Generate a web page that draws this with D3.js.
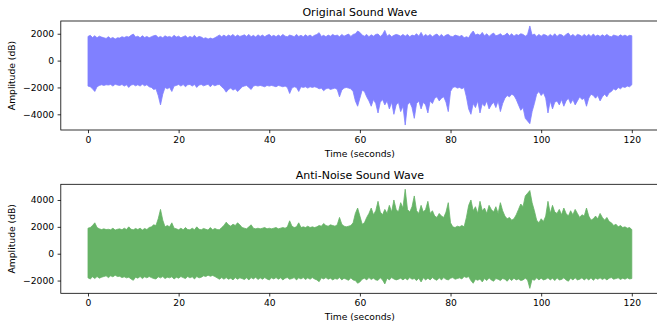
<!DOCTYPE html>
<html>
<head>
<meta charset="utf-8">
<script src="https://cdn.jsdelivr.net/npm/d3@7"></script>
<style>
  body { margin: 0; background: #fff; }
  svg { display: block; font-family: "DejaVu Sans", sans-serif; }
</style>
</head>
<body>
<svg id="chart" width="657" height="331"></svg>
<script>
// envelope of the original wave, read every 0.5 s from 0 to 120 s
const timeStep = 0.5;

const originalUpper = [
  1800,1880,1720,1850,1700,1820,1750,1700,1650,1780,
  1650,1720,1600,1700,1680,1780,1720,1800,1750,1880,
  1980,1750,1820,1700,1850,1720,1800,1700,1780,1850,
  1880,1720,1800,1700,1850,1750,1800,1720,1880,1750,
  1820,1700,1780,1850,1700,1800,1720,1880,1700,1800,
  1750,1650,1700,1600,1680,1620,1700,1800,1900,1780,
  1900,1780,1900,1820,1950,1780,1900,1800,1850,1920,
  1800,1950,1780,1880,1750,1920,1800,1900,1780,1880,
  1950,1800,1880,1780,1900,1800,1950,1820,1780,1900,
  1850,1780,1950,1800,1880,1780,1920,1800,1900,1780,
  1880,1950,2080,1800,1880,1780,1900,1820,1950,1850,
  1900,1780,1950,1820,1900,1980,1800,1950,2000,2200,
  2100,1900,1820,1950,1780,1920,1820,1950,1980,1800,
  1950,2250,1820,1950,1780,1880,1950,1900,1820,1950,
  1820,1950,1780,1900,1850,2000,1820,2100,1800,1950,
  1820,1950,1780,1900,1980,1800,1950,1780,1900,1950,
  1820,1780,1900,1850,1800,1880,1700,1780,1700,2000,
  2200,1900,1980,1880,2100,1850,2000,1800,1950,2050,
  1850,1900,2000,1850,1900,2050,1850,2000,1820,1950,
  1880,2000,1950,1820,1950,2580,1900,1980,1800,1950,
  1820,1950,1900,1800,1950,1820,2000,1800,1950,1920,
  1800,1950,2050,1820,1950,1800,1950,1900,1800,1950,
  1820,1950,1800,1980,1820,1900,1800,1920,1820,1950,
  1820,1780,1900,1850,1800,1920,1820,1900,1800,1880,
  1850
];

const originalLower = [
  -1900,-1950,-2100,-2300,-1950,-1850,-1800,-1850,-1800,-1820,
  -1780,-1900,-1760,-1820,-1850,-1780,-1900,-1800,-2000,-1820,
  -1780,-1880,-1800,-1900,-1760,-1880,-1800,-1950,-2000,-2150,
  -2100,-2600,-3300,-2500,-2000,-2100,-2000,-2300,-1900,-1850,
  -1780,-1900,-1780,-1950,-1800,-1780,-1900,-1780,-2000,-1820,
  -1780,-1880,-1820,-1760,-1950,-1780,-1880,-1800,-1780,-1950,
  -2100,-2350,-2150,-2050,-2200,-2100,-2300,-2150,-1950,-1900,
  -1850,-2000,-2150,-1900,-1850,-1900,-1850,-1900,-1950,-1850,
  -1900,-1850,-1900,-1950,-1850,-1900,-1950,-1900,-2000,-2450,
  -2050,-1950,-2000,-2300,-1950,-2000,-1950,-2050,-1950,-2000,
  -1950,-2000,-2100,-2050,-2250,-2100,-2050,-2150,-2100,-2050,
  -2150,-2700,-2200,-2050,-2000,-2050,-2100,-2300,-3000,-3400,
  -2800,-2200,-2300,-2700,-3000,-3400,-2900,-3200,-3900,-3100,
  -2900,-3300,-3000,-3600,-3100,-4000,-3300,-3100,-3800,-3400,
  -4800,-3300,-3100,-3500,-4300,-3200,-3000,-3600,-3100,-3300,
  -3900,-3000,-3200,-2800,-2700,-3000,-2800,-2700,-3100,-3800,
  -2300,-2000,-1950,-2050,-2000,-2100,-2000,-2700,-3600,-4000,
  -3200,-3500,-3000,-3900,-3200,-3400,-3000,-3600,-3300,-3100,
  -3500,-3000,-3800,-3200,-2800,-2600,-2700,-2500,-2600,-2900,
  -3300,-3700,-3500,-4300,-4500,-4700,-3800,-3200,-2500,-2300,
  -2600,-2400,-2800,-3900,-3000,-3600,-3100,-3000,-3300,-2900,
  -3400,-3000,-2800,-3200,-2900,-3300,-3000,-2700,-2900,-2800,
  -3400,-2800,-2500,-2600,-2800,-2600,-3000,-2700,-2500,-2700,
  -2400,-2300,-2100,-2200,-2000,-2100,-1950,-2000,-1900,-1950,
  -1800
];

// anti-noise is the inverted original, so its envelope flips
const antiUpper = originalLower.map(v => -v);
const antiLower = originalUpper.map(v => -v);

const xTicks = [0, 20, 40, 60, 80, 100, 120];
const topTicks = [-4000, -2000, 0, 2000];
const bottomTicks = [-2000, 0, 2000, 4000];

const svg = d3.select("#chart");
const left = 60.8, right = 659;

const x = d3.scaleLinear().domain([-6, 126]).range([left, right]);

function drawPanel(top, bottom, upper, lower, ticks, color, title, id) {
  const lo = d3.min(lower), hi = d3.max(upper);
  const pad = (hi - lo) * 0.05;
  const y = d3.scaleLinear().domain([lo - pad, hi + pad]).range([bottom, top]);

  svg.append("clipPath").attr("id", id)
    .append("rect")
    .attr("x", left).attr("y", top)
    .attr("width", right - left).attr("height", bottom - top);

  const area = d3.area()
    .x((d, i) => x(i * timeStep))
    .y0((d, i) => y(lower[i]))
    .y1((d, i) => y(upper[i]));

  svg.append("path")
    .datum(upper)
    .attr("clip-path", "url(#" + id + ")")
    .attr("d", area)
    .attr("fill", color)
    .attr("stroke", color)
    .attr("stroke-width", 0.8)
    .attr("stroke-linejoin", "round");

  // axes
  const xAxis = svg.append("g")
    .attr("transform", "translate(0," + bottom + ")")
    .call(d3.axisBottom(x).tickValues(xTicks).tickSize(3.2).tickPadding(3.2).tickFormat(d3.format("d")));
  const yAxis = svg.append("g")
    .attr("transform", "translate(" + left + ",0)")
    .call(d3.axisLeft(y).tickValues(ticks).tickSize(3.2).tickPadding(3.5).tickFormat(d3.format("d")));

  [xAxis, yAxis].forEach(g => {
    g.select(".domain").remove();
    g.selectAll(".tick line").attr("stroke", "#000").attr("stroke-width", 0.8);
    g.selectAll(".tick text")
      .attr("fill", "#000")
      .style("font-size", "9.2px")
      .style("font-family", "DejaVu Sans");
  });

  // frame
  svg.append("rect")
    .attr("x", left).attr("y", top)
    .attr("width", right - left).attr("height", bottom - top)
    .attr("fill", "none")
    .attr("stroke", "#000")
    .attr("stroke-width", 0.8);

  svg.append("text")
    .attr("x", (left + right) / 2)
    .attr("y", top - 5.5)
    .attr("text-anchor", "middle")
    .style("font-size", "11px")
    .text(title);

  svg.append("text")
    .attr("x", (left + right) / 2)
    .attr("y", bottom + 26.8)
    .attr("text-anchor", "middle")
    .style("font-size", "9.2px")
    .text("Time (seconds)");

  svg.append("text")
    .attr("transform", "translate(15," + ((top + bottom) / 2) + ") rotate(-90)")
    .attr("text-anchor", "middle")
    .style("font-size", "9.2px")
    .text("Amplitude (dB)");
}

drawPanel(21, 130, originalUpper, originalLower, topTicks, "#8080ff", "Original Sound Wave", "clipTop");
drawPanel(184.3, 293.3, antiUpper, antiLower, bottomTicks, "#66b366", "Anti-Noise Sound Wave", "clipBottom");
</script>
</body>
</html>
